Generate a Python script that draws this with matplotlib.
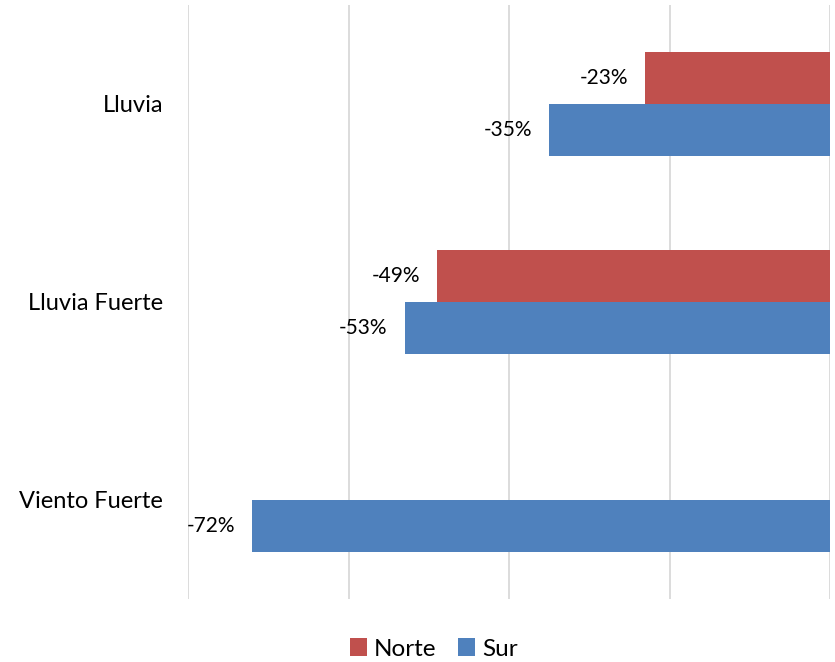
import numpy as np
import matplotlib
matplotlib.use('Agg')
import matplotlib.pyplot as plt

categories = ["Lluvia", "Lluvia Fuerte", "Viento Fuerte"]
norte = [-23, -49, np.nan]
sur = [-35, -53, -72]
series_names = ["Norte", "Sur"]
colors = ["#C0504D", "#4F81BD"]

plt.rcParams['font.family'] = ['Lato', 'DejaVu Sans']

fig = plt.figure(figsize=(8.35, 6.62), dpi=100)
ax = fig.add_axes([188/835, 63/662, 642/835, 594/662])

y = np.arange(len(categories))
h = 0.263
for vals, name, col, off in [(norte, series_names[0], colors[0], -h/2), (sur, series_names[1], colors[1], h/2)]:
	ax.barh(y + off, vals, height=h, color=col, label=name, zorder=2)
	for yi, v in zip(y, vals):
		if np.isnan(v):
			continue
		ax.annotate("%d%%" % v, (v, yi + off), xytext=(-17, 0), textcoords="offset pixels",
			ha="right", va="center", fontsize=15, color="black")

ax.set_xlim(-80, 0)
ax.set_ylim(len(categories) - 0.5, -0.5)
ax.set_xticks([-80, -60, -40, -20, 0])
ax.set_xticklabels([])
ax.tick_params(axis="x", length=0)
ax.grid(axis="x", color="#D9D9D9", linewidth=1.3, zorder=0)
ax.set_yticks(y)
ax.set_yticklabels(categories, fontsize=17)
ax.tick_params(axis="y", length=0, pad=18)
for s in ax.spines.values():
	s.set_visible(False)

ax.legend(loc="center", bbox_to_anchor=(434/835, 13/662), bbox_transform=fig.transFigure,
	ncol=2, frameon=False, fontsize=17.5, handlelength=0.7, handleheight=0.7,
	handletextpad=0.3, columnspacing=0.9, borderpad=0.2)

fig.savefig("out.png", dpi=100)
